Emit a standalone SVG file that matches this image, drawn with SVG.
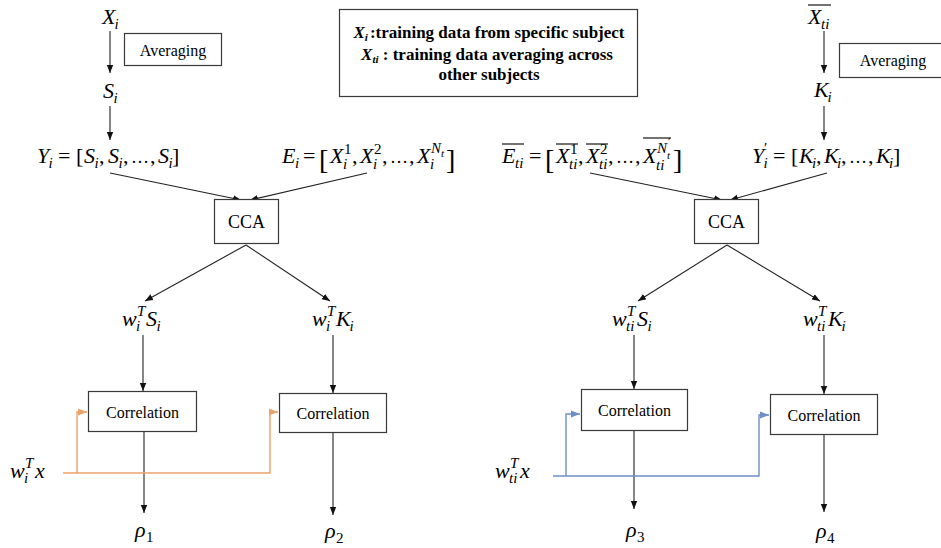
<svg xmlns="http://www.w3.org/2000/svg" width="941" height="548" viewBox="0 0 941 548">
<style>
.m{font-family:'Liberation Serif','Times New Roman',serif;font-style:italic;font-size:22px;fill:#000}
.s{font-size:15px}
.ss{font-size:11px}
.u{font-style:normal}
.br{font-style:normal;font-size:28px}
.el{font-style:normal;font-size:18px}
.t{font-family:'Liberation Serif','Times New Roman',serif;font-size:16px;fill:#000;text-anchor:middle}
.cca{font-size:18px}
.lg{font-family:'Liberation Serif','Times New Roman',serif;font-weight:bold;font-size:17px;fill:#000;text-anchor:middle}
.bi{font-style:italic}
.bs{font-style:italic;font-size:11px}
.box{fill:#fff;stroke:#3a3a3a;stroke-width:1.2}
.ln{fill:none;stroke:#222;stroke-width:1.1}
.or{fill:none;stroke:#EBA26A;stroke-width:1.4}
.bl{fill:none;stroke:#6E8FC6;stroke-width:1.4}
.ov{stroke:#000;stroke-width:1.1}
</style>
<defs>
<marker id="ah" viewBox="0 0 10 10" refX="10" refY="5" markerWidth="8" markerHeight="8" orient="auto" markerUnits="userSpaceOnUse"><path d="M0,1 L10,5 L0,9 z" fill="#111"/></marker>
<marker id="ao" viewBox="0 0 10 10" refX="10" refY="5" markerWidth="9" markerHeight="9" orient="auto" markerUnits="userSpaceOnUse"><path d="M0,1 L10,5 L0,9 z" fill="#EBA26A"/></marker>
<marker id="ab" viewBox="0 0 10 10" refX="10" refY="5" markerWidth="9" markerHeight="9" orient="auto" markerUnits="userSpaceOnUse"><path d="M0,1 L10,5 L0,9 z" fill="#6E8FC6"/></marker>
</defs>

<g id="connectors">
<line class="ln" x1="110" y1="31" x2="110" y2="73" marker-end="url(#ah)"/>
<line class="ln" x1="110" y1="106" x2="110" y2="140" marker-end="url(#ah)"/>
<line class="ln" x1="110" y1="173" x2="241" y2="200" marker-end="url(#ah)"/>
<line class="ln" x1="367" y1="173" x2="250" y2="200" marker-end="url(#ah)"/>
<line class="ln" x1="246" y1="245" x2="145" y2="301" marker-end="url(#ah)"/>
<line class="ln" x1="246" y1="245" x2="330" y2="301" marker-end="url(#ah)"/>
<line class="ln" x1="143" y1="335" x2="143" y2="391" marker-end="url(#ah)"/>
<line class="ln" x1="333" y1="335" x2="333" y2="393" marker-end="url(#ah)"/>
<line class="ln" x1="144" y1="432" x2="144" y2="513" marker-end="url(#ah)"/>
<line class="ln" x1="333" y1="433" x2="333" y2="515" marker-end="url(#ah)"/>
<path class="or" d="M63,473 H270 V412 H278" marker-end="url(#ao)"/>
<path class="or" d="M77,473 V412 H87" marker-end="url(#ao)"/>

<line class="ln" x1="824" y1="31" x2="824" y2="73" marker-end="url(#ah)"/>
<line class="ln" x1="824" y1="106" x2="824" y2="140" marker-end="url(#ah)"/>
<line class="ln" x1="590" y1="173" x2="722" y2="200" marker-end="url(#ah)"/>
<line class="ln" x1="827" y1="173" x2="730" y2="200" marker-end="url(#ah)"/>
<line class="ln" x1="727" y1="245" x2="638" y2="301" marker-end="url(#ah)"/>
<line class="ln" x1="727" y1="245" x2="820" y2="301" marker-end="url(#ah)"/>
<line class="ln" x1="634" y1="335" x2="634" y2="389" marker-end="url(#ah)"/>
<line class="ln" x1="824" y1="335" x2="824" y2="394" marker-end="url(#ah)"/>
<line class="ln" x1="634" y1="431" x2="634" y2="509" marker-end="url(#ah)"/>
<line class="ln" x1="824" y1="435" x2="824" y2="512" marker-end="url(#ah)"/>
<path class="bl" d="M553,476 H759 V415 H769" marker-end="url(#ab)"/>
<path class="bl" d="M566,476 V414 H580" marker-end="url(#ab)"/>
</g>

<g id="legend">
<rect class="box" x="339.5" y="9.5" width="298" height="87"/>
<text class="lg" x="489" y="38"><tspan class="bi">X</tspan><tspan class="bs" dy="3">i</tspan><tspan dy="-3" dx="2">:training data from specific subject</tspan></text>
<text class="lg" x="487" y="60"><tspan class="bi">X</tspan><tspan class="bs" dy="3">ti</tspan><tspan dy="-3"> : training data averaging across</tspan></text>
<text class="lg" x="489" y="80">other subjects</text>
</g>

<g id="Xi"><text class="m"><tspan x="102" y="24">X</tspan><tspan class="s" x="114.5" y="29">i</tspan></text></g>
<g id="averaging1"><rect class="box" x="124.5" y="33.5" width="97" height="32"/><text class="t" x="173" y="56">Averaging</text></g>
<g id="Si"><text class="m"><tspan x="103" y="98">S</tspan><tspan class="s" x="113.5" y="103">i</tspan></text></g>

<g id="Yi"><text class="m"><tspan x="37" y="163">Y</tspan><tspan class="s" x="48.5" y="168">i</tspan><tspan class="u" x="58" y="163">=</tspan><tspan class="u" x="76" y="163">[</tspan><tspan x="84" y="163">S</tspan><tspan class="s" x="94.5" y="168">i</tspan><tspan class="u" x="99" y="163">,</tspan><tspan x="108" y="163">S</tspan><tspan class="s" x="118.5" y="168">i</tspan><tspan class="u" x="123" y="163">,</tspan><tspan class="el" x="131" y="163">…</tspan><tspan class="u" x="150" y="163">,</tspan><tspan x="158" y="163">S</tspan><tspan class="s" x="168.5" y="168">i</tspan><tspan class="u" x="172" y="163">]</tspan></text></g>

<g id="Ei"><text class="m"><tspan x="282" y="163">E</tspan><tspan class="s" x="295" y="168">i</tspan><tspan class="u" x="303" y="163">=</tspan><tspan class="br" x="319" y="169">[</tspan><tspan x="330" y="163">X</tspan><tspan class="s u" x="344" y="154">1</tspan><tspan class="s" x="343" y="169">i</tspan><tspan class="u" x="352" y="163">,</tspan><tspan x="360" y="163">X</tspan><tspan class="s u" x="374" y="154">2</tspan><tspan class="s" x="373" y="169">i</tspan><tspan class="u" x="382" y="163">,</tspan><tspan class="el" x="390" y="163">…</tspan><tspan class="u" x="409" y="163">,</tspan><tspan x="417" y="163">X</tspan><tspan class="s" x="431" y="153">N</tspan><tspan class="ss" x="441" y="157">t</tspan><tspan class="s" x="430" y="169">i</tspan><tspan class="br" x="446" y="169">]</tspan></text></g>

<g id="cca1"><rect class="box" x="214.5" y="199.5" width="64" height="44"/><text class="t cca" x="246.5" y="228">CCA</text></g>
<g id="wiSi"><text class="m"><tspan x="122" y="326">w</tspan><tspan class="s" x="137" y="316">T</tspan><tspan class="s" x="136" y="331">i</tspan><tspan x="146" y="326">S</tspan><tspan class="s" x="156.5" y="331">i</tspan></text></g>
<g id="wiKi"><text class="m"><tspan x="312" y="326">w</tspan><tspan class="s" x="327" y="316">T</tspan><tspan class="s" x="326" y="331">i</tspan><tspan x="336" y="326">K</tspan><tspan class="s" x="349.5" y="331">i</tspan></text></g>
<g id="corr1"><rect class="box" x="88.5" y="391.5" width="108" height="40"/><text class="t" x="142.5" y="418">Correlation</text></g>
<g id="corr2"><rect class="box" x="279.5" y="393.5" width="107" height="39"/><text class="t" x="333" y="419">Correlation</text></g>
<g id="wix"><text class="m"><tspan x="10" y="478">w</tspan><tspan class="s" x="25" y="468">T</tspan><tspan class="s" x="24" y="483">i</tspan><tspan x="35" y="478">x</tspan></text></g>
<g id="rho1"><text class="m"><tspan x="135" y="537">ρ</tspan><tspan class="s u" x="146" y="542">1</tspan></text></g>
<g id="rho2"><text class="m"><tspan x="325" y="538">ρ</tspan><tspan class="s u" x="336" y="543">2</tspan></text></g>

<g id="Xti"><text class="m"><tspan x="808" y="24">X</tspan><tspan class="s" x="821" y="29">ti</tspan></text><line class="ov" x1="808" y1="5" x2="831" y2="5"/></g>
<g id="averaging2"><rect class="box" x="839.5" y="43.5" width="103" height="34"/><text class="t" x="893" y="66">Averaging</text></g>
<g id="Ki"><text class="m"><tspan x="814" y="97">K</tspan><tspan class="s" x="827.5" y="102">i</tspan></text></g>

<g id="Eti"><text class="m"><tspan x="502" y="163">E</tspan><tspan class="s" x="515" y="168">ti</tspan><tspan class="u" x="529" y="163">=</tspan><tspan class="br" x="545" y="169">[</tspan><tspan x="556" y="163">X</tspan><tspan class="s u" x="570" y="154">1</tspan><tspan class="s" x="569" y="169">ti</tspan><tspan class="u" x="578" y="163">,</tspan><tspan x="586" y="163">X</tspan><tspan class="s u" x="600" y="154">2</tspan><tspan class="s" x="599" y="169">ti</tspan><tspan class="u" x="608" y="163">,</tspan><tspan class="el" x="616" y="163">…</tspan><tspan class="u" x="635" y="163">,</tspan><tspan x="643" y="163">X</tspan><tspan class="s" x="657" y="153">N</tspan><tspan class="ss u" x="668" y="145">′</tspan><tspan class="ss" x="667" y="159">t</tspan><tspan class="s" x="656" y="170">ti</tspan><tspan class="br" x="673" y="169">]</tspan></text>
<line class="ov" x1="502" y1="144" x2="524" y2="144"/><line class="ov" x1="556" y1="144" x2="578" y2="144"/><line class="ov" x1="586" y1="144" x2="608" y2="144"/><line class="ov" x1="643" y1="138" x2="671" y2="138"/></g>

<g id="Yip"><text class="m"><tspan x="752" y="163">Y</tspan><tspan class="s u" x="764" y="153">′</tspan><tspan class="s" x="763.5" y="168">i</tspan><tspan class="u" x="773" y="163">=</tspan><tspan class="u" x="791" y="163">[</tspan><tspan x="799" y="163">K</tspan><tspan class="s" x="812" y="168">i</tspan><tspan class="u" x="816" y="163">,</tspan><tspan x="824" y="163">K</tspan><tspan class="s" x="837" y="168">i</tspan><tspan class="u" x="841" y="163">,</tspan><tspan class="el" x="849" y="163">…</tspan><tspan class="u" x="868" y="163">,</tspan><tspan x="876" y="163">K</tspan><tspan class="s" x="889" y="168">i</tspan><tspan class="u" x="893" y="163">]</tspan></text></g>

<g id="cca2"><rect class="box" x="694.5" y="199.5" width="64" height="44"/><text class="t cca" x="726.5" y="228">CCA</text></g>
<g id="wtiSi"><text class="m"><tspan x="612" y="326">w</tspan><tspan class="s" x="627" y="316">T</tspan><tspan class="s" x="626" y="331">ti</tspan><tspan x="637" y="326">S</tspan><tspan class="s" x="647.5" y="331">i</tspan></text></g>
<g id="wtiKi"><text class="m"><tspan x="803" y="326">w</tspan><tspan class="s" x="818" y="316">T</tspan><tspan class="s" x="817" y="331">ti</tspan><tspan x="828" y="326">K</tspan><tspan class="s" x="841.5" y="331">i</tspan></text></g>
<g id="corr3"><rect class="box" x="581.5" y="389.5" width="106" height="41"/><text class="t" x="634.5" y="416">Correlation</text></g>
<g id="corr4"><rect class="box" x="770.5" y="394.5" width="107" height="40"/><text class="t" x="824" y="421">Correlation</text></g>
<g id="wtix"><text class="m"><tspan x="495" y="478">w</tspan><tspan class="s" x="510" y="468">T</tspan><tspan class="s" x="509" y="483">ti</tspan><tspan x="520" y="478">x</tspan></text></g>
<g id="rho3"><text class="m"><tspan x="626" y="537">ρ</tspan><tspan class="s u" x="637" y="542">3</tspan></text></g>
<g id="rho4"><text class="m"><tspan x="816" y="538">ρ</tspan><tspan class="s u" x="827" y="543">4</tspan></text></g>
</svg>
